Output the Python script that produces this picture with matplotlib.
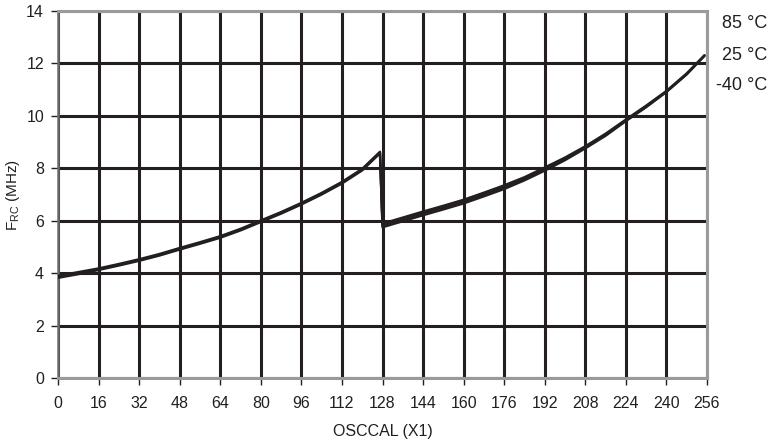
import matplotlib
matplotlib.use("Agg")
import matplotlib.pyplot as plt

# ---- data ----
osccal = [0, 8, 16, 24, 32, 40, 48, 56, 64, 72, 80, 88, 96, 104, 112, 120, 127,
          128, 136, 144, 152, 160, 168, 176, 184, 192, 200, 208, 216, 224, 232, 240, 248, 255]
f_25 = [3.86, 4.00, 4.15, 4.32, 4.50, 4.70, 4.93, 5.15, 5.38, 5.66, 5.98, 6.30, 6.65, 7.03, 7.45, 7.95, 8.60,
        5.82, 6.05, 6.28, 6.50, 6.73, 7.00, 7.28, 7.60, 7.97, 8.36, 8.80, 9.28, 9.83, 10.36, 10.93, 11.60, 12.30]
f_85 = [3.82, 3.96, 4.12, 4.29, 4.47, 4.67, 4.90, 5.12, 5.35, 5.63, 5.95, 6.27, 6.62, 7.00, 7.42, 7.92, 8.57,
        5.75, 5.98, 6.21, 6.43, 6.66, 6.93, 7.21, 7.54, 7.91, 8.31, 8.76, 9.24, 9.80, 10.33, 10.91, 11.58, 12.29]
f_m40 = [3.90, 4.04, 4.18, 4.35, 4.53, 4.73, 4.96, 5.18, 5.41, 5.69, 6.01, 6.33, 6.68, 7.06, 7.48, 7.98, 8.63,
         5.89, 6.12, 6.35, 6.57, 6.80, 7.07, 7.35, 7.66, 8.03, 8.41, 8.84, 9.32, 9.86, 10.39, 10.95, 11.62, 12.31]
series_labels = ["85 °C", "25 °C", "-40 °C"]
x_ticks = list(range(0, 257, 16))
y_ticks = list(range(0, 15, 2))

plt.rcParams['font.family'] = ['Liberation Sans', 'DejaVu Sans']
ink = "#231f20"

fig = plt.figure(figsize=(7.69, 4.44), dpi=100)
ax = fig.add_axes([58/769, 1-378/444, (707-58)/769, (378-11)/444])

for ys in (f_85, f_25, f_m40):
    ax.plot(osccal, ys, color=ink, lw=1.7, zorder=4, solid_joinstyle='round',
            solid_capstyle='round')

ax.set_xlim(0, 256)
ax.set_ylim(0, 14)
ax.set_xticks(x_ticks)
ax.set_yticks(y_ticks)
ax.grid(True, color=ink, lw=2.2, zorder=1)
ax.set_axisbelow(True)

for side in ("top", "right", "bottom"):
    ax.spines[side].set_color("#9a9a9a")
    ax.spines[side].set_linewidth(2.2)
    ax.spines[side].set_zorder(3)
ax.spines["left"].set_color("#6a6a6a")
ax.spines["left"].set_linewidth(1.8)
ax.spines["left"].set_zorder(3)

ax.tick_params(axis='both', direction='out', length=5, width=1.0, color=ink,
               labelsize=11.5, labelcolor=ink)
ax.tick_params(axis='x', pad=8)
ax.tick_params(axis='y', pad=5)

ax.set_xlabel("OSCCAL (X1)", fontsize=11.5, color=ink, labelpad=9)
ax.set_ylabel(r"F$_{\mathregular{RC}}$ (MHz)", fontsize=11, color=ink)
ax.yaxis.label.set_va('center')
ax.yaxis.set_label_coords(-45/649, 0.5)

label_y = [24, 55, 86]
for lab, py in zip(series_labels, label_y):
    fig.text(767/769, 1-py/444, lab, ha='right', va='center', fontsize=13, color=ink)

fig.savefig("out.png", dpi=100)
